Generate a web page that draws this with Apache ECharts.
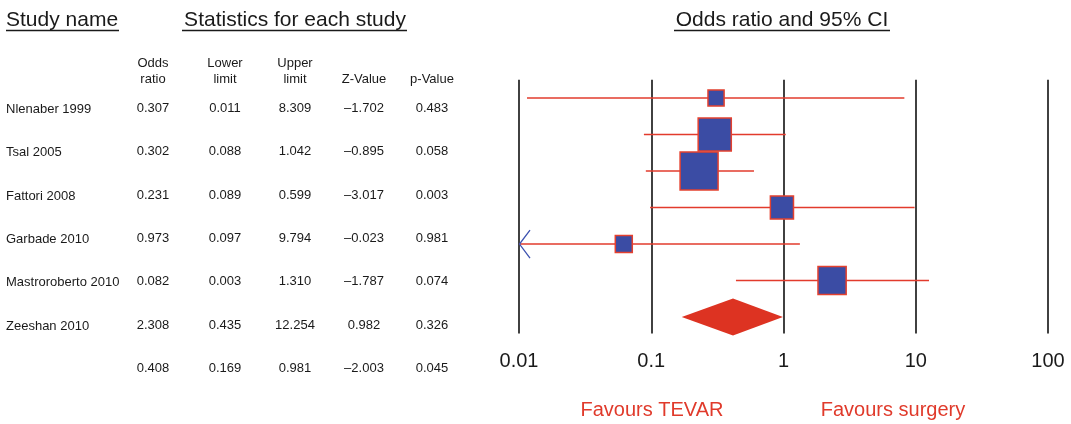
<!DOCTYPE html>
<html><head><meta charset="utf-8">
<script src="https://cdn.jsdelivr.net/npm/echarts@6/dist/echarts.min.js"></script>
<style>html,body{margin:0;padding:0;background:#fff}#c{width:1071px;height:424px}</style>
</head><body><div id="c"></div>
<script>
// ---- table data ----
const studyNames = ['Nlenaber 1999','Tsal 2005','Fattori 2008','Garbade 2010','Mastroroberto 2010','Zeeshan 2010',''];
const oddsRatio  = ['0.307','0.302','0.231','0.973','0.082','2.308','0.408'];
const lowerLimit = ['0.011','0.088','0.089','0.097','0.003','0.435','0.169'];
const upperLimit = ['8.309','1.042','0.599','9.794','1.310','12.254','0.981'];
const zValue     = ['\u20131.702','\u20130.895','\u20133.017','\u20130.023','\u20131.787','0.982','\u20132.003'];
const pValue     = ['0.483','0.058','0.003','0.981','0.074','0.326','0.045'];
const headerTop    = ['Odds','Lower','Upper','',''];
const headerBottom = ['ratio','limit','limit','Z-Value','p-Value'];

// ---- forest plot data (as drawn in the graph) ----
const plotOR     = [0.309, 0.302, 0.230, 0.973, 0.062, 2.33];
const plotLower  = [0.0115, 0.088, 0.091, 0.098, 0.003, 0.437];
const plotUpper  = [8.2, 1.04, 0.598, 9.8, 1.33, 12.6];
const plotWeight = [0.18, 0.76, 1.0, 0.37, 0.2, 0.55];
const summaryOR = [0.415], summaryLower = [0.17], summaryUpper = [0.99];
const xTicks = [0.01, 0.1, 1, 10, 100];

const FONT = '"Liberation Sans", Arial, Helvetica, sans-serif';
const chart = echarts.init(document.getElementById('c'));

const studyData = plotOR.map((v, i) => [v, plotLower[i], plotUpper[i], i + 1, plotWeight[i]]);
const summaryData = [[summaryOR[0], summaryLower[0], summaryUpper[0], plotOR.length + 1]];

function txt(text, x, y, size, align, color, vAlign) {
  return { type: 'text', silent: true, style: {
    text, x, y, font: size + 'px ' + FONT, fill: color || '#1a1a1a',
    textAlign: align || 'left', align: align || 'left',
    textVerticalAlign: vAlign || 'middle', verticalAlign: vAlign || 'middle' } };
}
function uline(x1, x2, y) {
  return { type: 'line', silent: true, shape: { x1, y1: y, x2, y2: y }, style: { stroke: '#1a1a1a', lineWidth: 1.4 } };
}

const graphics = [];
graphics.push(txt('Study name', 6, 20, 21, 'left'));
graphics.push(uline(6, 119, 30.5));
graphics.push(txt('Statistics for each study', 295, 20, 21, 'center'));
graphics.push(uline(182, 407, 30.5));
graphics.push(txt('Odds ratio and 95% CI', 782, 20, 21, 'center'));
graphics.push(uline(674, 890, 30.5));

const colX = [153, 225, 295, 364, 432];
headerTop.forEach((t, j) => { if (t) graphics.push(txt(t, colX[j], 63, 13, 'center')); });
headerBottom.forEach((t, j) => graphics.push(txt(t, colX[j], 79, 13, 'center')));
const cols = [oddsRatio, lowerLimit, upperLimit, zValue, pValue];
studyNames.forEach((name, i) => {
  const y = 109.5 + 43.3 * i;
  if (name) graphics.push(txt(name, 6, y, 13, 'left'));
  cols.forEach((col, j) => graphics.push(txt(col[i], colX[j], y - 1, 13, 'center')));
});
graphics.push(txt('Favours TEVAR', 652, 410, 20, 'center', '#e03a2b'));
graphics.push(txt('Favours surgery', 893, 410, 20, 'center', '#e03a2b'));

chart.setOption({
  animation: false,
  backgroundColor: '#fff',
  grid: { left: 519, right: 23, top: 79.75, height: 253.7 },
  xAxis: {
    type: 'log', logBase: 10, min: xTicks[0], max: xTicks[xTicks.length - 1],
    axisLine: { show: false }, axisTick: { show: false },
    splitLine: { show: true, lineStyle: { color: '#111', width: 1.6 } },
    axisLabel: { fontSize: 20, fontFamily: FONT, color: '#1a1a1a', margin: 18,
      formatter: v => String(+(+v).toPrecision(3)) }
  },
  yAxis: { type: 'value', inverse: true, min: 0.5, max: 7.45, show: false, splitLine: { show: false } },
  graphic: graphics,
  series: [
    {
      type: 'custom', clip: false, data: studyData,
      renderItem(params, api) {
        const or = api.value(0), lo = api.value(1), hi = api.value(2), row = api.value(3), w = api.value(4);
        const c = api.coord([or, row]);
        const pl = api.coord([Math.max(lo, xTicks[0]), row]);
        const ph = api.coord([Math.min(hi, xTicks[xTicks.length - 1]), row]);
        const s = 38 * Math.sqrt(w);
        const children = [
          { type: 'line', shape: { x1: pl[0], y1: c[1], x2: ph[0], y2: c[1] }, style: { stroke: '#e23b2c', lineWidth: 1.5 } },
          { type: 'rect', shape: { x: c[0] - s / 2, y: c[1] - s / 2, width: s, height: s }, style: { fill: '#3b4ca4', stroke: '#e4412f', lineWidth: 1.5 } }
        ];
        if (lo < xTicks[0]) {
          children.push({ type: 'polyline', shape: { points: [[pl[0] + 11, c[1] - 14], [pl[0] + 0.5, c[1]], [pl[0] + 11, c[1] + 14]] },
            style: { stroke: '#3d52b0', fill: null, lineWidth: 1.3 } });
        }
        return { type: 'group', children };
      }
    },
    {
      type: 'custom', clip: false, data: summaryData,
      renderItem(params, api) {
        const c = api.coord([api.value(0), api.value(3)]);
        const l = api.coord([api.value(1), api.value(3)]);
        const h = api.coord([api.value(2), api.value(3)]);
        return { type: 'polygon', shape: { points: [[l[0], c[1]], [c[0], c[1] - 18.5], [h[0], c[1]], [c[0], c[1] + 18.5]] },
          style: { fill: '#dd3322', stroke: null } };
      }
    }
  ]
});
</script></body></html>
